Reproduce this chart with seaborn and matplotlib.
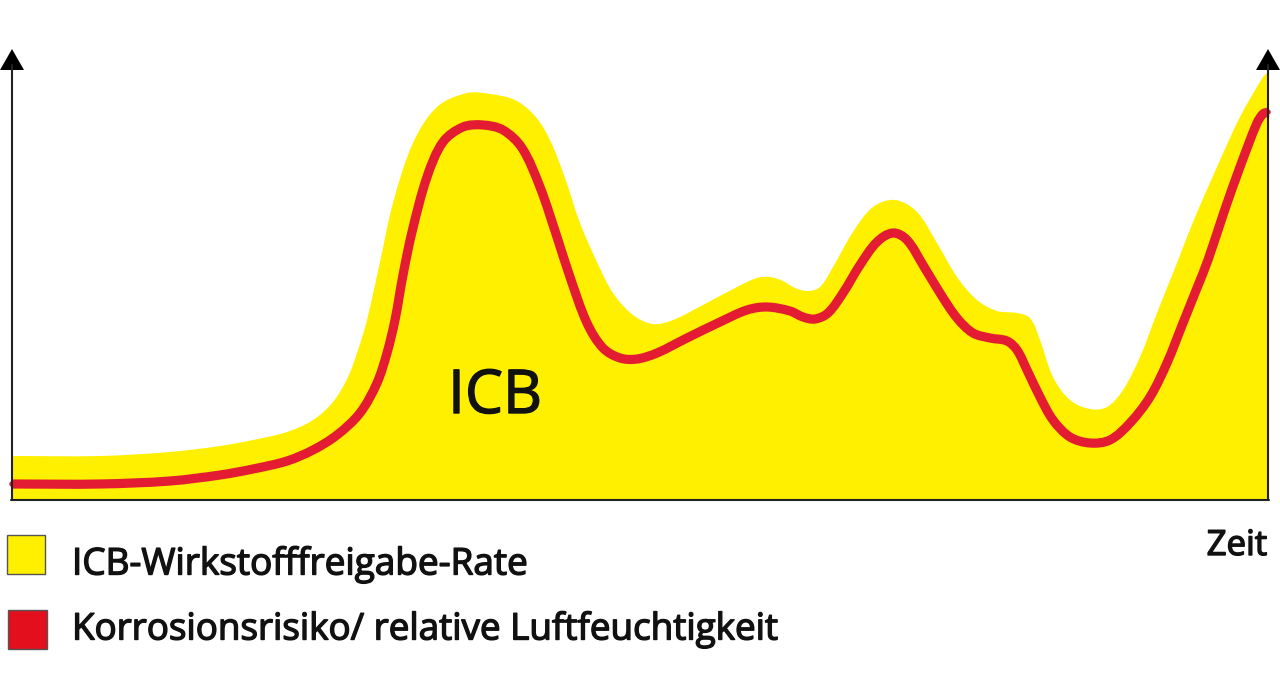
import matplotlib.pyplot as plt
import matplotlib.patches as mpatches
import matplotlib.patheffects as pe
import numpy as np
import seaborn as sns
from matplotlib.path import Path

# curves, x and y in pixels of the original
zeit = [12, 100, 170, 220, 253, 287, 313, 337, 360, 377, 387, 395, 403, 412, 427, 443, 463, 483, 503, 522, 540, 557, 570, 587, 603, 620, 637, 657, 687, 720, 747, 767, 790, 803, 815, 828, 843, 860, 877, 893, 907, 923, 940, 957, 973, 990, 1007, 1017, 1027, 1040, 1053, 1070, 1090, 1110, 1130, 1150, 1167, 1183, 1197, 1208, 1224, 1240, 1257, 1263, 1268]
risiko = [484, 484, 481, 475, 469, 461, 450, 435, 413, 383, 353, 320, 275, 232, 177, 142, 127, 125, 130, 148, 187, 237, 277, 323, 348, 358, 359, 353, 338, 322, 310, 307, 311, 317, 319, 313, 293, 265, 242, 233, 240, 265, 293, 318, 333, 338, 341, 350, 370, 397, 420, 437, 443, 440, 423, 397, 363, 323, 288, 260, 212, 167, 123, 114, 112]

zeit_icb = [12, 100, 170, 220, 253, 287, 313, 333, 348, 358, 367, 380, 393, 413, 437, 467, 490, 515, 535, 550, 565, 580, 597, 613, 633, 653, 673, 703, 737, 757, 770, 783, 795, 808, 820, 833, 853, 873, 895, 917, 937, 957, 977, 997, 1017, 1030, 1040, 1053, 1070, 1090, 1107, 1123, 1140, 1157, 1177, 1193, 1217, 1240, 1263, 1267]
icb = [456, 456, 452, 446, 440, 432, 420, 402, 377, 350, 320, 262, 203, 143, 107, 93, 94, 100, 116, 140, 178, 223, 262, 293, 315, 324, 320, 305, 287, 278, 277, 281, 288, 291, 287, 267, 232, 207, 200, 212, 243, 277, 300, 311, 313, 318, 340, 377, 400, 409, 407, 390, 357, 313, 263, 222, 167, 117, 77, 73]


def smooth_path(xs, ys):
    # cubic bezier through the read points, handles follow the neighbours
    pts = np.column_stack([xs, ys]).astype(float)
    tang = []
    for i in range(len(pts)):
        d = pts[min(i + 1, len(pts) - 1)] - pts[max(i - 1, 0)]
        tang.append(d / np.hypot(*d))
    verts = [pts[0]]
    codes = [Path.MOVETO]
    for i in range(len(pts) - 1):
        h = np.hypot(*(pts[i + 1] - pts[i])) / 3
        verts += [pts[i] + tang[i] * h, pts[i + 1] - tang[i + 1] * h, pts[i + 1]]
        codes += [Path.CURVE4] * 3
    return verts, codes


sns.set_theme(style="white")
plt.rcParams['font.family'] = ['Open Sans', 'DejaVu Sans']

fig = plt.figure(figsize=(12.8, 7), dpi=100)
ax = fig.add_axes([0, 0, 1, 1])

verts, codes = smooth_path(zeit_icb, icb)
verts += [[zeit_icb[-1], 500], [zeit_icb[0], 500], [zeit_icb[0], icb[0]]]
codes += [Path.LINETO, Path.LINETO, Path.CLOSEPOLY]
ax.add_patch(mpatches.PathPatch(Path(verts, codes), fc="#fff000", lw=0))

# seaborn line under the smooth stroke of the same series
sns.lineplot(x=zeit, y=risiko, color="#e31b33", lw=4, ax=ax, estimator=None, sort=False)
verts, codes = smooth_path(zeit, risiko)
ax.add_patch(mpatches.PathPatch(Path(verts, codes), fc="none", ec="#e31b33", lw=6.6, capstyle="butt"))

ax.set_xlim(0, 1280)
ax.set_ylim(700, 0)
ax.axis("off")

# axes with arrow heads
ax.plot([12, 12], [65, 500], color="#222222", lw=1.5)
ax.plot([11, 1269], [500, 500], color="#222222", lw=1.5)
ax.plot([1268, 1268], [65, 500], color="#222222", lw=1.5)
for x0 in (12, 1268):
    ax.add_patch(mpatches.Polygon([[x0 - 12, 70], [x0 + 12, 70], [x0, 49]], color="black", lw=0))

bold = [pe.withStroke(linewidth=1.0, foreground="#111111")]
ax.text(495, 397, "ICB", fontsize=43.5, ha="center", va="center", color="#111111", path_effects=bold)
ax.text(1237, 546, "Zeit", fontsize=25, ha="center", va="center", color="#111111", path_effects=bold)

ax.add_patch(mpatches.Rectangle((7, 535), 38, 39, fc="#fff000", ec="#555555", lw=1))
ax.add_patch(mpatches.Rectangle((8, 610), 39, 39, fc="#e30f1c", ec="#555555", lw=1))
ax.text(72, 565, "ICB-Wirkstofffreigabe-Rate", fontsize=26.6, va="center", color="#111111", path_effects=bold)
ax.text(72, 630, "Korrosionsrisiko/ relative Luftfeuchtigkeit", fontsize=26.5, va="center", color="#111111", path_effects=bold)

fig.savefig("out.png", dpi=100)
